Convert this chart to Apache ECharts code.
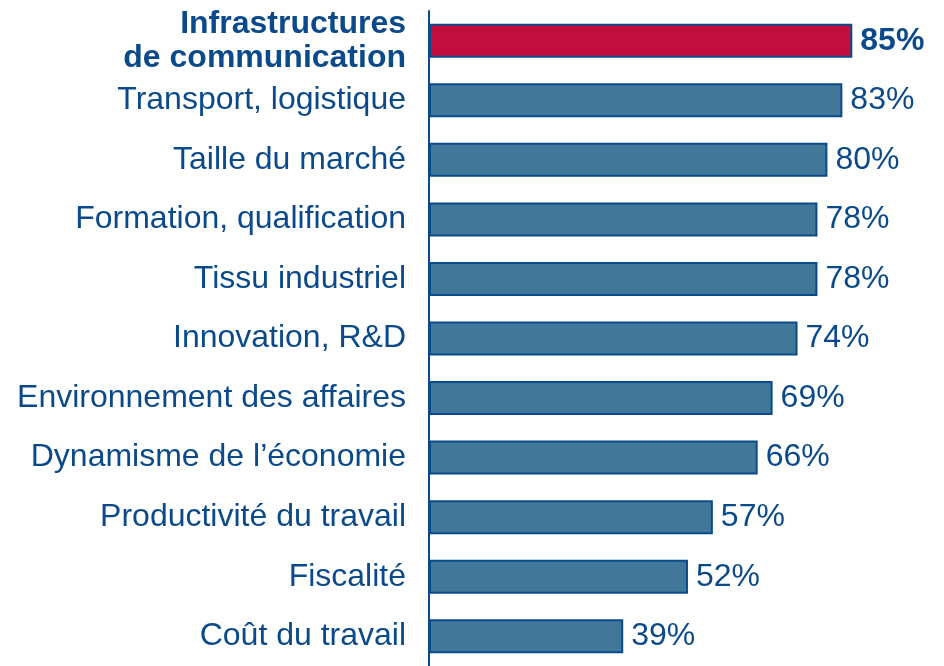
<!DOCTYPE html>
<html>
<head>
<meta charset="utf-8">
<script src="https://cdn.jsdelivr.net/npm/echarts@6/dist/echarts.min.js"></script>
<style>
  html, body { margin: 0; padding: 0; background: #fff; }
  #main { width: 944px; height: 666px; }
</style>
</head>
<body>
<div id="main"></div>
<script>
const categories = [
  "Infrastructures\nde communication",
  "Transport, logistique",
  "Taille du marché",
  "Formation, qualification",
  "Tissu industriel",
  "Innovation, R&D",
  "Environnement des affaires",
  "Dynamisme de l’économie",
  "Productivité du travail",
  "Fiscalité",
  "Coût du travail"
];
const values = [85, 83, 80, 78, 78, 74, 69, 66, 57, 52, 39];
const highlightIndex = 0;

const navy = "#0B4A8A";
const fontFamily = "'Liberation Sans', Arial, sans-serif";

let chart = echarts.init(document.getElementById("main"));

let option = {
  backgroundColor: "#fff",
  animation: false,
  grid: { left: 429, top: 11, width: 498, height: 658, containLabel: false },
  xAxis: {
    type: "value",
    min: 0,
    max: 100,
    show: false
  },
  yAxis: {
    type: "category",
    data: categories,
    inverse: true,
    axisLine: { show: true, lineStyle: { color: navy, width: 2 } },
    axisTick: { show: false },
    axisLabel: {
      margin: 23,
      color: navy,
      fontSize: 32,
      fontFamily: fontFamily,
      formatter: function (v, i) {
        return i === highlightIndex ? "{b|" + v.split("\n").join("}\n{b|") + "}" : v;
      },
      rich: {
        b: { fontWeight: "bold", fontSize: 32, color: navy, fontFamily: fontFamily, lineHeight: 34, align: "right" }
      }
    }
  },
  series: [
    {
      type: "bar",
      barWidth: 34,
      data: values.map(function (v, i) {
        return {
          value: v,
          itemStyle: { color: i === highlightIndex ? "#C20E3E" : "#41789A" },
          label: i === highlightIndex ? { fontWeight: "bold" } : {}
        };
      }),
      itemStyle: { borderColor: navy, borderWidth: 2 },
      label: {
        show: true,
        position: "right",
        distance: 8,
        color: navy,
        fontSize: 32,
        fontFamily: fontFamily,
        formatter: "{c}%"
      }
    }
  ]
};
option && chart.setOption(option);
</script>
</body>
</html>
